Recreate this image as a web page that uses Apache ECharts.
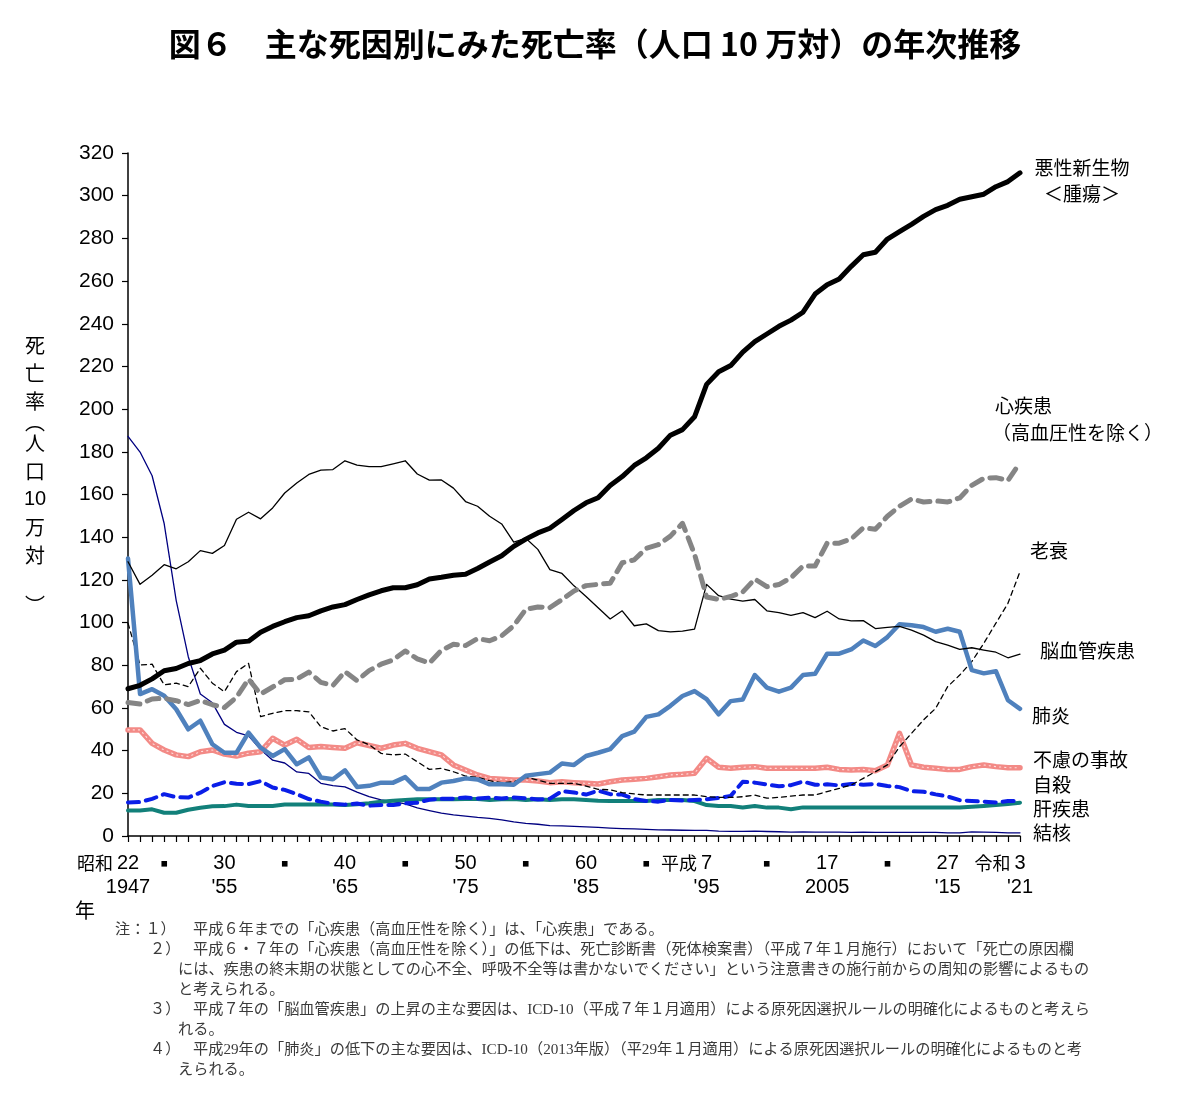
<!DOCTYPE html>
<html>
<head>
<meta charset="utf-8">
<script src="https://cdn.jsdelivr.net/npm/echarts@6/dist/echarts.min.js"></script>
<style>
  html, body { margin: 0; padding: 0; background: #fff; }
  #chart { width: 1190px; height: 1096px; }
</style>
</head>
<body>
<div id="chart"></div>
<script>
// years 1947 (昭和22) .. 2021 (令和3)
var years = [];
for (var y = 1947; y <= 2021; y++) years.push(String(y));

// x tick labels
var tickYears   = ['1947', '1950', '1955', '1960', '1965', '1970', '1975', '1980', '1985', '1990', '1995', '2000', '2005', '2010', '2015', '2021'];
var tickEra     = ['昭和', '', '', '', '', '', '', '', '', '', '平成', '', '', '', '', '令和'];
var tickNum     = ['22', '・', '30', '・', '40', '・', '50', '・', '60', '・', '7', '・', '17', '・', '27', '3'];
var tickWestern = ['1947', '', "'55", '', "'65", '', "'75", '', "'85", '', "'95", '', '2005', '', "'15", "'21"];

// death rates per 100,000 population
var cancer = [69.0, 70.6, 73.6, 77.4, 78.5, 80.8, 82.2, 85.3, 87.1, 90.8,
  91.3, 95.5, 98.2, 100.4, 102.3, 103.2, 105.5, 107.3, 108.4, 110.8,
  113.0, 114.9, 116.3, 116.3, 117.7, 120.4, 121.2, 122.2, 122.6, 125.3,
  128.4, 131.3, 135.7, 139.1, 142.0, 144.2, 148.3, 152.5, 156.1, 158.5,
  164.2, 168.4, 173.6, 177.2, 181.7, 187.8, 190.4, 196.4, 211.6, 217.5,
  220.4, 226.7, 231.6, 235.2, 238.8, 241.7, 245.4, 253.9, 258.3, 261.0,
  266.9, 272.3, 273.5, 279.7, 283.2, 286.6, 290.3, 293.5, 295.5, 298.3,
  299.5, 300.7, 304.2, 306.6, 310.7];

var heart = [62.5, 61.8, 64.2, 64.5, 63.4, 61.6, 63.5, 61.5, 60.2, 65.0,
  73.5, 66.5, 69.8, 73.2, 73.5, 76.8, 72.0, 70.5, 77.0, 72.8,
  77.5, 80.5, 82.5, 86.7, 83.0, 81.0, 87.0, 89.8, 89.2, 92.5,
  91.5, 93.8, 98.5, 106.2, 107.3, 107.0, 110.8, 114.8, 117.3, 117.9,
  118.4, 128.0, 129.4, 134.8, 136.5, 140.5, 146.5, 132.0, 112.0, 110.8,
  112.2, 114.3, 120.4, 116.8, 117.8, 121.0, 126.5, 126.5, 137.2, 137.2,
  139.2, 144.4, 143.7, 149.8, 154.5, 157.9, 156.5, 157.0, 156.5, 158.4,
  164.3, 167.6, 167.9, 166.6, 174.9];

var cerebro = [128.5, 117.9, 122.2, 127.1, 125.2, 128.5, 133.7, 132.4, 136.1, 148.4,
  151.7, 148.6, 153.7, 160.7, 165.4, 169.4, 171.4, 171.7, 175.8, 173.8,
  173.1, 173.1, 174.4, 175.8, 169.6, 166.7, 166.8, 163.0, 156.7, 154.5,
  149.8, 146.2, 137.7, 139.5, 134.3, 124.8, 123.0, 117.2, 112.2, 106.9,
  101.7, 105.5, 98.5, 99.4, 96.2, 95.6, 96.0, 96.9, 117.9, 112.6,
  111.0, 110.0, 110.8, 105.5, 104.7, 103.4, 104.7, 102.3, 105.3, 101.7,
  100.8, 100.9, 97.2, 97.7, 98.2, 96.5, 94.1, 91.1, 89.4, 87.4,
  88.2, 87.1, 86.1, 83.5, 85.2];

var pneumonia = [130.0, 66.5, 68.8, 65.7, 59.4, 50.0, 54.0, 43.0, 39.0, 39.0,
  48.4, 41.4, 37.5, 40.7, 33.6, 36.8, 27.4, 26.6, 30.8, 23.0,
  23.5, 25.0, 25.0, 27.6, 22.0, 22.0, 25.0, 25.8, 27.0, 26.5,
  24.2, 24.3, 24.0, 28.2, 29.0, 29.7, 34.0, 33.3, 37.5, 39.0,
  40.7, 46.8, 48.9, 55.8, 57.0, 61.0, 65.6, 67.9, 64.1, 57.0,
  63.2, 64.0, 75.4, 69.5, 67.6, 69.5, 75.4, 76.0, 85.4, 85.4,
  87.4, 91.6, 89.0, 93.2, 99.2, 98.7, 97.9, 95.7, 97.1, 95.7,
  77.7, 76.2, 77.2, 63.6, 59.6];

var senility = [99.7, 80.1, 80.5, 70.8, 71.6, 70.0, 78.6, 71.6, 67.6, 77.0,
  80.9, 55.9, 57.5, 58.7, 58.7, 58.2, 51.2, 49.2, 50.3, 45.0,
  42.8, 38.7, 38.0, 38.4, 34.8, 31.2, 31.7, 30.1, 28.1, 27.5,
  25.9, 25.0, 25.4, 27.5, 26.2, 24.7, 24.7, 24.7, 23.4, 21.9,
  21.6, 20.3, 19.7, 19.2, 19.2, 19.2, 19.2, 19.2, 18.4, 18.1,
  18.1, 18.4, 19.2, 17.7, 18.1, 18.7, 19.2, 19.2, 20.8, 22.3,
  23.9, 27.0, 30.1, 33.3, 41.8, 48.1, 54.4, 59.8, 70.0, 75.4,
  81.7, 90.3, 99.7, 109.0, 123.9];

var accident = [49.7, 49.7, 43.4, 40.3, 38.0, 37.2, 39.5, 40.3, 38.4, 37.5,
  38.8, 39.5, 45.8, 42.6, 45.3, 41.5, 41.9, 41.5, 41.1, 43.7,
  42.4, 41.1, 42.6, 43.4, 41.1, 39.5, 38.0, 33.3, 30.9, 28.6,
  27.0, 26.6, 26.2, 26.2, 25.8, 25.0, 25.4, 25.0, 24.7, 24.4,
  25.4, 26.2, 26.6, 27.0, 27.8, 28.6, 28.9, 29.4, 36.4, 32.2,
  31.7, 32.2, 32.5, 31.7, 31.7, 31.7, 31.7, 31.7, 32.2, 31.2,
  30.9, 31.2, 30.6, 33.3, 48.1, 33.3, 32.2, 31.7, 31.2, 31.2,
  32.5, 33.3, 32.5, 32.0, 32.0];

var suicide = [15.7, 15.9, 17.4, 19.6, 18.2, 18.0, 20.3, 23.4, 25.2, 24.5,
  24.3, 25.7, 22.7, 21.6, 19.6, 17.3, 16.1, 15.1, 14.7, 15.2,
  14.2, 14.5, 14.5, 15.3, 15.6, 17.0, 17.4, 17.5, 18.0, 17.6,
  17.9, 17.6, 18.0, 17.7, 17.1, 17.5, 21.0, 20.4, 19.4, 21.2,
  19.6, 19.4, 17.3, 16.4, 16.1, 16.9, 16.6, 16.9, 17.2, 17.8,
  18.8, 25.4, 25.0, 24.1, 23.3, 23.8, 25.5, 24.0, 24.2, 23.7,
  24.4, 24.0, 24.4, 23.4, 22.9, 21.0, 20.7, 19.5, 18.5, 16.8,
  16.4, 16.1, 15.7, 16.4, 16.5];

var liver = [11.9, 11.9, 12.5, 10.9, 10.9, 12.3, 13.2, 13.9, 14.0, 14.7,
  14.1, 14.1, 14.1, 14.8, 14.8, 14.8, 14.8, 14.8, 14.5, 14.9,
  15.3, 16.0, 16.5, 16.9, 17.2, 17.2, 17.2, 17.2, 17.3, 17.3,
  16.9, 17.2, 17.3, 16.9, 17.2, 16.9, 17.2, 17.2, 16.9, 16.5,
  16.4, 16.4, 16.4, 16.4, 16.9, 16.9, 16.9, 16.4, 14.5, 14.1,
  14.1, 13.4, 14.1, 13.3, 13.3, 12.5, 13.4, 13.3, 13.3, 13.3,
  13.3, 13.3, 13.3, 13.3, 13.3, 13.3, 13.3, 13.3, 13.3, 13.3,
  13.7, 14.1, 14.5, 15.0, 15.6];

var tuberculosis = [187.2, 179.9, 168.8, 146.4, 110.3, 84.0, 66.5, 62.4, 52.3, 48.6,
  46.9, 40.5, 35.5, 34.2, 30.0, 29.3, 24.7, 23.6, 23.0, 20.6,
  18.4, 16.9, 16.1, 15.0, 13.2, 11.9, 10.7, 9.9, 9.3, 8.7,
  8.3, 7.6, 6.6, 5.9, 5.5, 4.9, 4.7, 4.5, 4.3, 4.0,
  3.7, 3.5, 3.3, 3.1, 2.9, 2.8, 2.7, 2.6, 2.6, 2.3,
  2.2, 2.2, 2.3, 2.1, 2.0, 1.8, 1.9, 1.8, 1.8, 1.8,
  1.7, 1.8, 1.7, 1.7, 1.7, 1.7, 1.7, 1.7, 1.5, 1.5,
  1.9, 1.8, 1.7, 1.5, 1.5];

var LATIN = "'Liberation Sans', Arial, 'Noto Sans CJK JP', sans-serif";
var JP = "'Noto Sans CJK JP', sans-serif";

var chart = echarts.init(document.getElementById('chart'));

function line(name, data, color, width, type, z) {
  return {
    name: name,
    type: 'line',
    data: data,
    showSymbol: false,
    symbol: 'none',
    z: z,
    silent: true,
    lineStyle: { color: color, width: width, type: type || 'solid', cap: 'round', join: 'round' }
  };
}

// series labels at the right side
var seriesLabels = [
  [1082, 168, '悪性新生物', 'center'],
  [1082, 194, '＜腫瘍＞', 'center'],
  [995, 406, '心疾患', 'left'],
  [992, 433, '（高血圧性を除く）', 'left'],
  [1030, 551, '老衰', 'left'],
  [1040, 651, '脳血管疾患', 'left'],
  [1032, 716, '肺炎', 'left'],
  [1033, 760, '不慮の事故', 'left'],
  [1033, 785, '自殺', 'left'],
  [1033, 809, '肝疾患', 'left'],
  [1033, 833, '結核', 'left']
];

var notes = [
  [115, 930, '注：１）'],
  [193, 930, '平成６年までの「心疾患（高血圧性を除く）」は、「心疾患」である。'],
  [150, 950, '２）'],
  [193, 950, '平成６・７年の「心疾患（高血圧性を除く）」の低下は、死亡診断書（死体検案書）（平成７年１月施行）において「死亡の原因欄'],
  [178, 970, 'には、疾患の終末期の状態としての心不全、呼吸不全等は書かないでください」という注意書きの施行前からの周知の影響によるもの'],
  [178, 990, 'と考えられる。'],
  [150, 1010, '３）'],
  [193, 1010, '平成７年の「脳血管疾患」の上昇の主な要因は、ICD-10（平成７年１月適用）による原死因選択ルールの明確化によるものと考えら'],
  [178, 1030, 'れる。'],
  [150, 1050, '４）'],
  [193, 1050, '平成29年の「肺炎」の低下の主な要因は、ICD-10（2013年版）（平29年１月適用）による原死因選択ルールの明確化によるものと考'],
  [178, 1070, 'えられる。']
];

var graphics = [];
seriesLabels.forEach(function (s) {
  graphics.push({
    type: 'text', x: s[0], y: s[1], silent: true,
    style: { text: s[2], fontSize: 19, fontFamily: JP, fill: '#000', align: s[3], verticalAlign: 'middle' }
  });
});
notes.forEach(function (n) {
  graphics.push({
    type: 'text', x: n[0], y: n[1], silent: true,
    style: { text: n[2], fontSize: 15.2, fontFamily: "'Liberation Serif', 'Noto Sans CJK JP', serif", fill: '#3a3a3a', align: 'left', verticalAlign: 'middle' }
  });
});
// y axis name (vertical)
graphics.push({
  type: 'text', x: 35, y: 331, silent: true,
  style: {
    text: '{c|死}\n{c|亡}\n{c|率}\n{p|︵}\n{c|人}\n{c|口}\n{n|10}\n{c|万}\n{c|対}\n{q|︶}',
    align: 'center', verticalAlign: 'top', fill: '#000',
    rich: {
      c: { fontSize: 20, fontFamily: JP, lineHeight: 28, fill: '#000' },
      n: { fontSize: 20, fontFamily: LATIN, lineHeight: 28, fill: '#000' },
      p: { fontSize: 20, fontFamily: JP, lineHeight: 14, fill: '#000' },
      q: { fontSize: 20, fontFamily: JP, lineHeight: 72, fill: '#000' }
    }
  }
});
graphics.push({
  type: 'text', x: 85, y: 910, silent: true,
  style: { text: '年', fontSize: 20, fontFamily: JP, fill: '#000', align: 'center', verticalAlign: 'middle' }
});

var option = {
  backgroundColor: '#fff',
  animation: false,
  title: {
    text: '図６　主な死因別にみた死亡率（人口 10 万対）の年次推移',
    left: 'center',
    top: 23,
    textStyle: { fontSize: 32, fontWeight: 'bold', fontFamily: JP, color: '#000' }
  },
  grid: { left: 128, top: 153, width: 892, height: 683, containLabel: false },
  xAxis: {
    type: 'category',
    data: years,
    boundaryGap: false,
    axisLine: { lineStyle: { color: '#000', width: 1.5 } },
    axisTick: { show: true, interval: 0, length: 6, lineStyle: { color: '#000', width: 1.2 } },
    axisLabel: {
      interval: 0,
      margin: 15,
      color: '#000',
      formatter: function (val) {
        var i = tickYears.indexOf(val);
        if (i < 0) return '';
        var top;
        if (tickNum[i] === '・') top = '{d|■}';
        else if (tickEra[i]) top = '{e|' + tickEra[i] + '}{n|' + tickNum[i] + '}{pad|　}';
        else top = '{n|' + tickNum[i] + '}';
        return top + '\n{n|' + (tickWestern[i] || ' ') + '}';
      },
      rich: {
        n: { fontSize: 20, fontFamily: LATIN, lineHeight: 24, color: '#000' },
        e: { fontSize: 18, fontFamily: JP, lineHeight: 24, width: 44, color: '#000' },
        pad: { fontSize: 18, fontFamily: JP, lineHeight: 24, width: 44, color: 'rgba(0,0,0,0)' },
        d: { fontSize: 7, fontFamily: JP, lineHeight: 24, color: '#000' }
      }
    },
    splitLine: { show: false }
  },
  yAxis: {
    type: 'value',
    min: 0,
    max: 320,
    interval: 20,
    axisLine: { show: true, lineStyle: { color: '#000', width: 1.5 } },
    axisTick: { show: true, length: 6, lineStyle: { color: '#000', width: 1.2 } },
    axisLabel: { fontSize: 21, fontFamily: LATIN, color: '#000', margin: 14 },
    splitLine: { show: false }
  },
  graphic: graphics,
  series: [
    line('結核', tuberculosis, '#000080', 1.3, 'solid', 2),
    line('肝疾患', liver, '#12807a', 4, 'solid', 3),
    line('自殺', suicide, '#0a1ee8', 4, [11, 7], 4),
    line('不慮の事故', accident, '#f38a86', 5.5, 'solid', 5),
    line('不慮の事故', accident, 'rgba(255,235,235,0.85)', 1.1, [1.2, 4], 6),
    line('老衰', senility, '#000', 1.3, [5, 4], 7),
    line('肺炎', pneumonia, '#4f81bd', 4.5, 'solid', 8),
    line('脳血管疾患', cerebro, '#000', 1.3, 'solid', 9),
    line('心疾患（高血圧性を除く）', heart, '#858585', 5, [12, 8], 10),
    line('悪性新生物＜腫瘍＞', cancer, '#000', 5, 'solid', 11)
  ]
};

chart.setOption(option);
</script>
</body>
</html>
